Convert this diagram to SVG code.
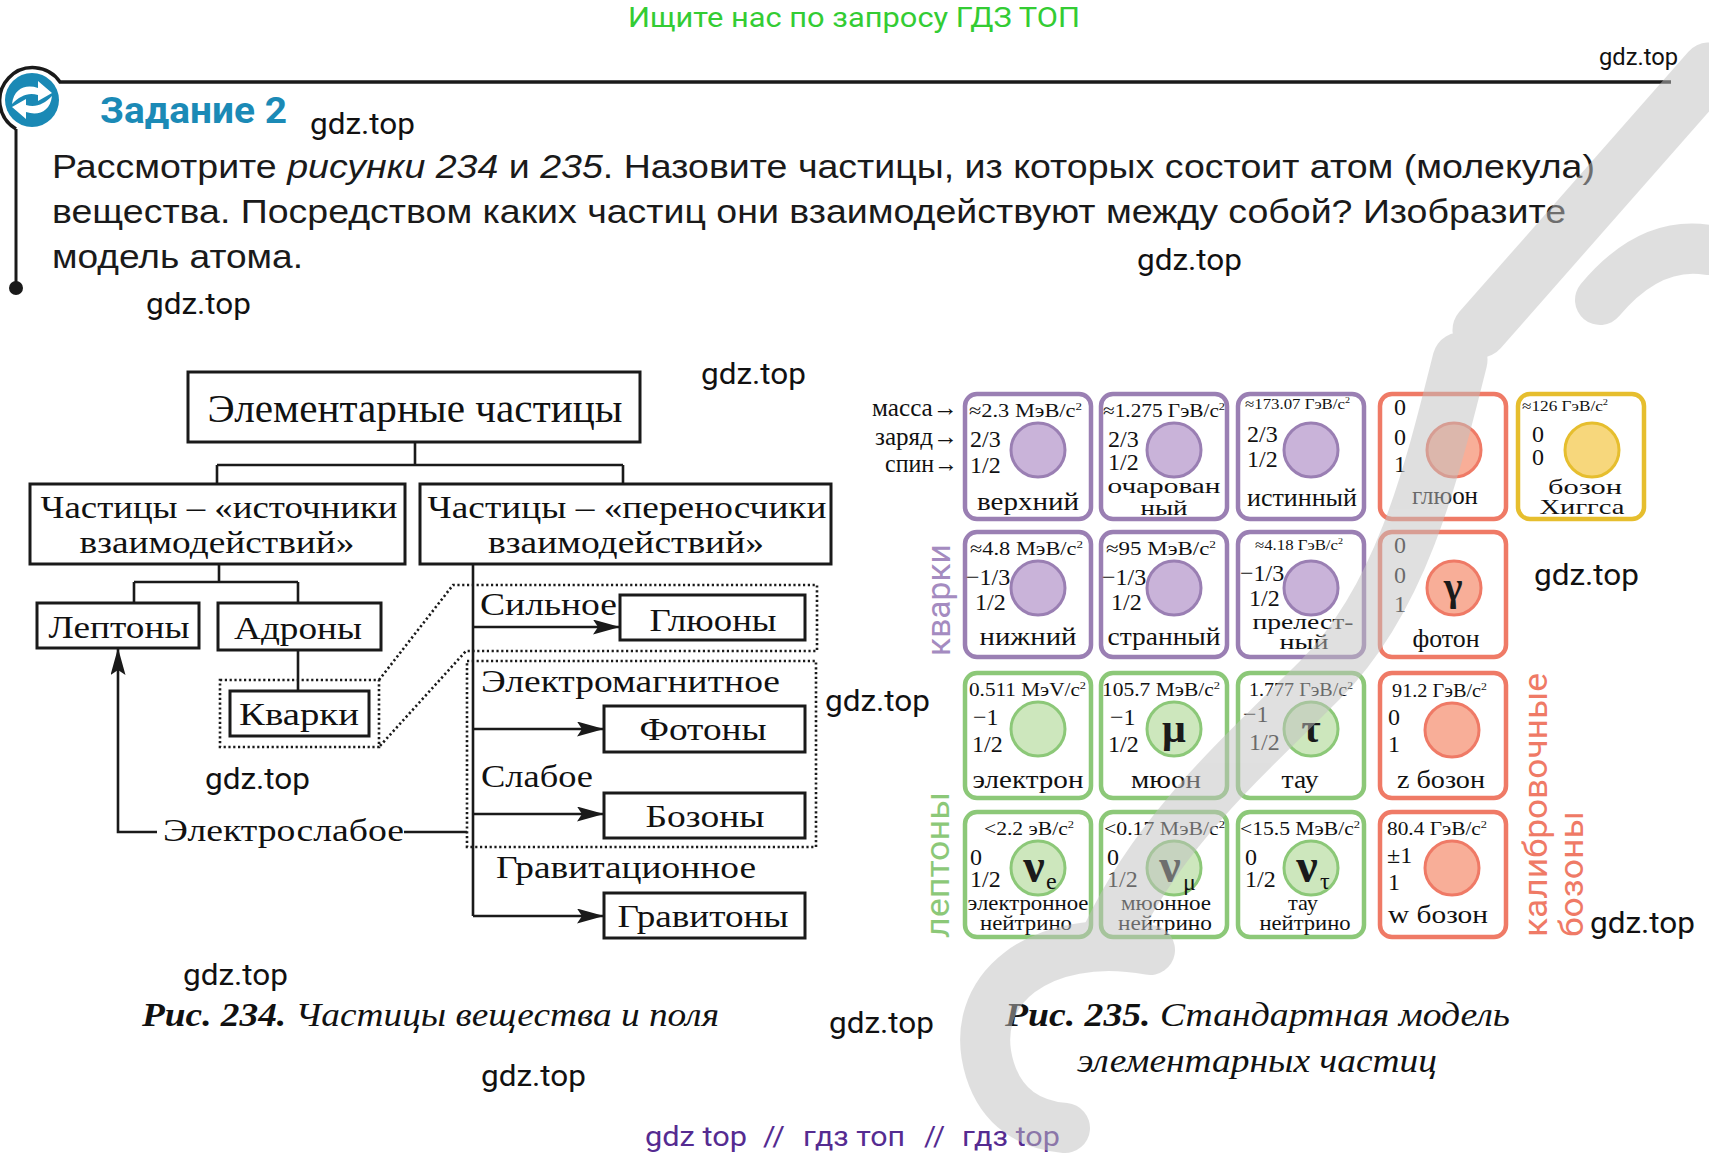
<svg xmlns="http://www.w3.org/2000/svg" width="1709" height="1158" viewBox="0 0 1709 1158">
<defs>
<style>
.sans{font-family:Roboto,"Liberation Sans",Arial,sans-serif}
.wm{font-family:Roboto,"Liberation Sans",Arial,sans-serif;font-size:30px;fill:#111}
.para{font-family:"Liberation Sans",Arial,sans-serif;font-size:34px;fill:#1a1a1a}
.box{fill:#fff;stroke:#1a1a1a;stroke-width:3}
.ln{fill:none;stroke:#1a1a1a;stroke-width:2.6}
.arr{fill:none;stroke:#1a1a1a;stroke-width:2.6;marker-end:url(#ah)}
.dot{fill:none;stroke:#1a1a1a;stroke-width:2.6;stroke-dasharray:2.2 2.6}
.tt{font-family:"Liberation Serif","Times New Roman",serif;fill:#111;font-size:32px}
.tc{text-anchor:middle}
.cell{fill:#fff;stroke-width:4.5}
.p{stroke:#9a7fb3}.g{stroke:#8cc878}.r{stroke:#ef7a66}.y{stroke:#e6be2e}
.kp{fill:#c9b3d9;stroke:#9a7fb3;stroke-width:3}
.kg{fill:#cde7bd;stroke:#8cc878;stroke-width:3}
.kr{fill:#f8ae98;stroke:#ef7a66;stroke-width:3}
.ky{fill:#f7d77c;stroke:#e6be2e;stroke-width:3}
.m{font-family:"Liberation Serif","Times New Roman",serif;font-size:19px;fill:#111}
.ms{font-family:"Liberation Serif","Times New Roman",serif;font-size:15px;fill:#111}
.q{font-family:"Liberation Serif","Times New Roman",serif;font-size:24px;fill:#111}
.n{font-family:"Liberation Serif","Times New Roman",serif;font-size:25px;fill:#111;text-anchor:middle}
.n2{font-family:"Liberation Serif","Times New Roman",serif;font-size:21px;fill:#111;text-anchor:middle}
.gk{font-family:"Liberation Serif","Times New Roman",serif;font-weight:bold;fill:#1a1a1a;text-anchor:middle}
.sup{font-size:11px}
.side{font-family:"Liberation Serif","Times New Roman",serif;font-size:25px;fill:#111;text-anchor:end}
.vl{font-family:Roboto,"Liberation Sans",Arial,sans-serif;font-size:34px}
.cap{font-family:"Liberation Serif","Times New Roman",serif;font-style:italic;font-size:34px;fill:#111}
</style>
<marker id="ah" viewBox="0 0 27 15" refX="27" refY="7.5" markerWidth="27" markerHeight="15" markerUnits="userSpaceOnUse" orient="auto">
<path d="M0,0 L27,7.5 L0,15 L5,7.5 z" fill="#1a1a1a"/>
</marker>
</defs>
<rect width="1709" height="1158" fill="#fff"/>

<!-- header -->
<text class="sans" x="854" y="27" font-size="28" fill="#33cc33" text-anchor="middle" textLength="452" lengthAdjust="spacingAndGlyphs">Ищите нас по запросу ГДЗ ТОП</text>
<text class="wm" x="1599" y="65" style="font-size:24px" textLength="79" lengthAdjust="spacingAndGlyphs">gdz.top</text>

<g id="icon">
<path d="M16 129 A33 33 0 1 1 60 82 L1671 82" fill="none" stroke="#1a1a1a" stroke-width="3.5"/>
<path d="M16 129 L16 286" stroke="#1a1a1a" stroke-width="3"/>
<circle cx="16" cy="288" r="7" fill="#1a1a1a"/>
<circle cx="32" cy="100" r="27" fill="#1a89b5"/>
<path d="M12 104 C14 88 26 84 38 88 L38 81 L52 93 L38 101 L38 95 C28 92 20 96 12 104 Z" fill="#fff"/>
<path d="M52 96 C50 112 38 116 26 112 L26 119 L12 107 L26 99 L26 105 C36 108 44 104 52 96 Z" fill="#fff"/>
</g>
<text class="sans" x="100" y="123" font-size="36" font-weight="bold" fill="#1b8ab6" textLength="187" lengthAdjust="spacingAndGlyphs">Задание 2</text>

<text class="para" x="52" y="178" textLength="1543" lengthAdjust="spacingAndGlyphs">Рассмотрите <tspan font-style="italic">рисунки 234</tspan> и <tspan font-style="italic">235</tspan>. Назовите частицы, из которых состоит атом (молекула)</text>
<text class="para" x="52" y="223" textLength="1514" lengthAdjust="spacingAndGlyphs">вещества. Посредством каких частиц они взаимодействуют между собой? Изобразите</text>
<text class="para" x="52" y="268" textLength="251" lengthAdjust="spacingAndGlyphs">модель атома.</text>

<!-- gdz.top watermarks -->
<g id="gdz-marks">
<text class="wm" x="310" y="134" textLength="105" lengthAdjust="spacingAndGlyphs">gdz.top</text>
<text class="wm" x="1137" y="270" textLength="105" lengthAdjust="spacingAndGlyphs">gdz.top</text>
<text class="wm" x="146" y="314" textLength="105" lengthAdjust="spacingAndGlyphs">gdz.top</text>
<text class="wm" x="701" y="384" textLength="105" lengthAdjust="spacingAndGlyphs">gdz.top</text>
<text class="wm" x="1534" y="585" textLength="105" lengthAdjust="spacingAndGlyphs">gdz.top</text>
<text class="wm" x="825" y="711" textLength="105" lengthAdjust="spacingAndGlyphs">gdz.top</text>
<text class="wm" x="205" y="789" textLength="105" lengthAdjust="spacingAndGlyphs">gdz.top</text>
<text class="wm" x="1590" y="933" textLength="105" lengthAdjust="spacingAndGlyphs">gdz.top</text>
<text class="wm" x="183" y="985" textLength="105" lengthAdjust="spacingAndGlyphs">gdz.top</text>
<text class="wm" x="829" y="1033" textLength="105" lengthAdjust="spacingAndGlyphs">gdz.top</text>
<text class="wm" x="481" y="1086" textLength="105" lengthAdjust="spacingAndGlyphs">gdz.top</text>
</g>

<!-- Fig 234 connectors -->
<g id="connectors">
<path class="ln" d="M415 442 V465 M217 465 H623 M217 465 V484 M623 465 V484"/>
<path class="ln" d="M219 564 V582 M134 582 H298 M134 582 V603 M298 582 V603"/>
<path class="ln" d="M298 650 V691"/>
<path class="ln" d="M473 564 V916"/>
<path class="arr" d="M473 627 H620"/>
<path class="arr" d="M473 729 H604"/>
<path class="arr" d="M473 814 H604"/>
<path class="arr" d="M473 916 H604"/>
<path class="ln" d="M467 832 H404"/>
<path class="arr" d="M157 832 H118 V648"/>
<path class="dot" d="M220 680 H379 V747 H220 Z"/>
<path class="dot" d="M379 680 L453 585 H817 V651 H466 L379 747"/>
<path class="dot" d="M467 661 H816 V847 H467 Z"/>
</g>

<g id="n-root"><rect class="box" x="188" y="372" width="452" height="70"/>
<text class="tt tc" x="415" y="422" style="font-size:40px" textLength="415" lengthAdjust="spacingAndGlyphs">Элементарные частицы</text></g>
<g id="n-src"><rect class="box" x="30" y="484" width="375" height="80"/>
<text class="tt tc" x="219" y="518" textLength="357" lengthAdjust="spacingAndGlyphs">Частицы – «источники</text>
<text class="tt tc" x="217" y="553" textLength="275" lengthAdjust="spacingAndGlyphs">взаимодействий»</text></g>
<g id="n-car"><rect class="box" x="420" y="484" width="411" height="80"/>
<text class="tt tc" x="627" y="518" textLength="399" lengthAdjust="spacingAndGlyphs">Частицы – «переносчики</text>
<text class="tt tc" x="626" y="553" textLength="276" lengthAdjust="spacingAndGlyphs">взаимодействий»</text></g>
<g id="n-lep"><rect class="box" x="37" y="603" width="162" height="45"/>
<text class="tt tc" x="119" y="638" textLength="141" lengthAdjust="spacingAndGlyphs">Лептоны</text></g>
<g id="n-adr"><rect class="box" x="218" y="603" width="163" height="47"/>
<text class="tt tc" x="298" y="639" textLength="128" lengthAdjust="spacingAndGlyphs">Адроны</text></g>
<g id="n-quark"><rect class="box" x="230" y="691" width="139" height="45"/>
<text class="tt tc" x="299" y="725" textLength="120" lengthAdjust="spacingAndGlyphs">Кварки</text></g>
<g id="n-gluon"><rect class="box" x="620" y="595" width="185" height="45"/>
<text class="tt tc" x="713" y="631" textLength="127" lengthAdjust="spacingAndGlyphs">Глюоны</text></g>
<g id="n-photon"><rect class="box" x="604" y="706" width="201" height="46"/>
<text class="tt tc" x="703" y="740" textLength="127" lengthAdjust="spacingAndGlyphs">Фотоны</text></g>
<g id="n-boson"><rect class="box" x="604" y="793" width="201" height="45"/>
<text class="tt tc" x="705" y="827" textLength="119" lengthAdjust="spacingAndGlyphs">Бозоны</text></g>
<g id="n-graviton"><rect class="box" x="604" y="893" width="201" height="45"/>
<text class="tt tc" x="703" y="927" textLength="171" lengthAdjust="spacingAndGlyphs">Гравитоны</text></g>
<g id="labels234">
<text class="tt" x="480" y="615" textLength="137" lengthAdjust="spacingAndGlyphs">Сильное</text>
<text class="tt" x="481" y="692" textLength="299" lengthAdjust="spacingAndGlyphs">Электромагнитное</text>
<text class="tt" x="481" y="787" textLength="112" lengthAdjust="spacingAndGlyphs">Слабое</text>
<text class="tt" x="496" y="878" textLength="260" lengthAdjust="spacingAndGlyphs">Гравитационное</text>
<text class="tt" x="163" y="841" textLength="241" lengthAdjust="spacingAndGlyphs">Электрослабое</text>
</g>

<!-- Fig 235 -->
<g id="side-labels">
<text class="side" x="958" y="416" textLength="86" lengthAdjust="spacingAndGlyphs">масса→</text>
<text class="side" x="958" y="445" textLength="83" lengthAdjust="spacingAndGlyphs">заряд→</text>
<text class="side" x="958" y="472" textLength="73" lengthAdjust="spacingAndGlyphs">спин→</text>
<text class="vl" transform="translate(950,656) rotate(-90)" fill="#a48bc0" textLength="112" lengthAdjust="spacingAndGlyphs">кварки</text>
<text class="vl" transform="translate(949,938) rotate(-90)" fill="#8cc878" textLength="146" lengthAdjust="spacingAndGlyphs">лептоны</text>
<text class="vl" transform="translate(1547,937) rotate(-90)" fill="#ef7a66" textLength="264" lengthAdjust="spacingAndGlyphs">калибровочные</text>
<text class="vl" transform="translate(1583,937) rotate(-90)" fill="#ef7a66" textLength="126" lengthAdjust="spacingAndGlyphs">бозоны</text>
</g>

<g id="c-up"><rect class="cell p" x="965" y="394" width="126" height="125" rx="12"/><circle class="kp" cx="1038" cy="450" r="27"/>
<text class="m" x="969" y="417" textLength="113" lengthAdjust="spacingAndGlyphs">≈2.3 МэВ/с<tspan class="sup" dy="-7">2</tspan></text>
<text class="q" x="970" y="447">2/3</text><text class="q" x="970" y="473">1/2</text>
<text class="n" x="1028" y="510" textLength="102" lengthAdjust="spacingAndGlyphs">верхний</text></g>
<g id="c-charm"><rect class="cell p" x="1101" y="394" width="126" height="125" rx="12"/><circle class="kp" cx="1174" cy="450" r="27"/>
<text class="m" x="1103" y="417" textLength="122" lengthAdjust="spacingAndGlyphs">≈1.275 ГэВ/с<tspan class="sup" dy="-7">2</tspan></text>
<text class="q" x="1108" y="447">2/3</text><text class="q" x="1108" y="470">1/2</text>
<text class="n2" x="1164" y="493" textLength="113" lengthAdjust="spacingAndGlyphs">очарован</text>
<text class="n2" x="1164" y="515" textLength="47" lengthAdjust="spacingAndGlyphs">ный</text></g>
<g id="c-top"><rect class="cell p" x="1238" y="394" width="126" height="125" rx="12"/><circle class="kp" cx="1311" cy="450" r="27"/>
<text class="ms" x="1245" y="409" textLength="105" lengthAdjust="spacingAndGlyphs">≈173.07 ГэВ/с<tspan class="sup" dy="-6" style="font-size:9px">2</tspan></text>
<text class="q" x="1247" y="442">2/3</text><text class="q" x="1247" y="467">1/2</text>
<text class="n" x="1302" y="506" textLength="110" lengthAdjust="spacingAndGlyphs">истинный</text></g>
<g id="c-gluon"><rect class="cell r" x="1380" y="394" width="126" height="125" rx="12"/><circle class="kr" cx="1454" cy="450" r="27"/>
<text class="q" x="1394" y="415">0</text><text class="q" x="1394" y="445">0</text><text class="q" x="1394" y="472">1</text>
<text class="n" x="1445" y="504" textLength="66" lengthAdjust="spacingAndGlyphs">глюон</text></g>
<g id="c-higgs"><rect class="cell y" x="1518" y="394" width="126" height="125" rx="12"/><circle class="ky" cx="1592" cy="450" r="27"/>
<text class="ms" x="1522" y="411" textLength="86" lengthAdjust="spacingAndGlyphs">≈126 ГэВ/с<tspan class="sup" dy="-6" style="font-size:9px">2</tspan></text>
<text class="q" x="1532" y="442">0</text><text class="q" x="1532" y="465">0</text>
<text class="n2" x="1585" y="494" textLength="74" lengthAdjust="spacingAndGlyphs">бозон</text>
<text class="n2" x="1582" y="514" textLength="85" lengthAdjust="spacingAndGlyphs">Хиггса</text></g>

<g id="c-down"><rect class="cell p" x="965" y="532" width="126" height="125" rx="12"/><circle class="kp" cx="1038" cy="588" r="27"/>
<text class="m" x="970" y="555" textLength="113" lengthAdjust="spacingAndGlyphs">≈4.8 МэВ/с<tspan class="sup" dy="-7">2</tspan></text>
<text class="q" x="966" y="585">−1/3</text><text class="q" x="975" y="610">1/2</text>
<text class="n" x="1028" y="645" textLength="97" lengthAdjust="spacingAndGlyphs">нижний</text></g>
<g id="c-strange"><rect class="cell p" x="1101" y="532" width="126" height="125" rx="12"/><circle class="kp" cx="1174" cy="588" r="27"/>
<text class="m" x="1106" y="555" textLength="110" lengthAdjust="spacingAndGlyphs">≈95 МэВ/с<tspan class="sup" dy="-7">2</tspan></text>
<text class="q" x="1102" y="585">−1/3</text><text class="q" x="1111" y="610">1/2</text>
<text class="n" x="1164" y="645" textLength="113" lengthAdjust="spacingAndGlyphs">странный</text></g>
<g id="c-bottom"><rect class="cell p" x="1238" y="532" width="126" height="125" rx="12"/><circle class="kp" cx="1311" cy="588" r="27"/>
<text class="ms" x="1255" y="550" textLength="88" lengthAdjust="spacingAndGlyphs">≈4.18 ГэВ/с<tspan class="sup" dy="-6" style="font-size:9px">2</tspan></text>
<text class="q" x="1240" y="581">−1/3</text><text class="q" x="1249" y="606">1/2</text>
<text class="n2" x="1303" y="629" textLength="101" lengthAdjust="spacingAndGlyphs">прелест-</text>
<text class="n2" x="1304" y="649" textLength="49" lengthAdjust="spacingAndGlyphs">ный</text></g>
<g id="c-photon"><rect class="cell r" x="1380" y="532" width="126" height="125" rx="12"/><circle class="kr" cx="1454" cy="588" r="27"/>
<text class="gk" x="1453" y="600" font-size="40">γ</text>
<text class="q" x="1394" y="553">0</text><text class="q" x="1394" y="583">0</text><text class="q" x="1394" y="612">1</text>
<text class="n" x="1446" y="647" textLength="67" lengthAdjust="spacingAndGlyphs">фотон</text></g>

<g id="c-electron"><rect class="cell g" x="965" y="673" width="126" height="125" rx="12"/><circle class="kg" cx="1038" cy="729" r="27"/>
<text class="m" x="969" y="696" textLength="117" lengthAdjust="spacingAndGlyphs">0.511 MэV/c<tspan class="sup" dy="-7">2</tspan></text>
<text class="q" x="973" y="725">−1</text><text class="q" x="972" y="752">1/2</text>
<text class="n" x="1028" y="788" textLength="111" lengthAdjust="spacingAndGlyphs">электрон</text></g>
<g id="c-muon"><rect class="cell g" x="1101" y="673" width="126" height="125" rx="12"/><circle class="kg" cx="1174" cy="729" r="27"/>
<text class="gk" x="1174" y="742" font-size="42">μ</text>
<text class="m" x="1102" y="696" textLength="118" lengthAdjust="spacingAndGlyphs">105.7 МэВ/с<tspan class="sup" dy="-7">2</tspan></text>
<text class="q" x="1110" y="725">−1</text><text class="q" x="1108" y="752">1/2</text>
<text class="n" x="1166" y="788" textLength="70" lengthAdjust="spacingAndGlyphs">мюон</text></g>
<g id="c-tau"><rect class="cell g" x="1238" y="673" width="126" height="125" rx="12"/><circle class="kg" cx="1311" cy="729" r="27"/>
<text class="gk" x="1311" y="742" font-size="42">τ</text>
<text class="m" x="1249" y="696" textLength="104" lengthAdjust="spacingAndGlyphs">1.777 ГэВ/с<tspan class="sup" dy="-7">2</tspan></text>
<text class="q" x="1243" y="722">−1</text><text class="q" x="1249" y="750">1/2</text>
<text class="n" x="1300" y="788" textLength="37" lengthAdjust="spacingAndGlyphs">тау</text></g>
<g id="c-z"><rect class="cell r" x="1380" y="673" width="126" height="125" rx="12"/><circle class="kr" cx="1452" cy="730" r="27"/>
<text class="m" x="1392" y="697" textLength="95" lengthAdjust="spacingAndGlyphs">91.2 ГэВ/с<tspan class="sup" dy="-7">2</tspan></text>
<text class="q" x="1388" y="725">0</text><text class="q" x="1388" y="752">1</text>
<text class="n" x="1441" y="788" textLength="88" lengthAdjust="spacingAndGlyphs">z бозон</text></g>

<g id="c-nue"><rect class="cell g" x="965" y="812" width="126" height="125" rx="12"/><circle class="kg" cx="1038" cy="868" r="27"/>
<text class="gk" x="1034" y="882" font-size="48">ν</text><text class="m" x="1046" y="889" style="font-size:24px">e</text>
<text class="m" x="984" y="835" textLength="90" lengthAdjust="spacingAndGlyphs">&lt;2.2 эВ/с<tspan class="sup" dy="-7">2</tspan></text>
<text class="q" x="970" y="865">0</text><text class="q" x="970" y="887">1/2</text>
<text class="n2" x="1028" y="910" textLength="121" lengthAdjust="spacingAndGlyphs">электронное</text>
<text class="n2" x="1026" y="930" textLength="92" lengthAdjust="spacingAndGlyphs">нейтрино</text></g>
<g id="c-numu"><rect class="cell g" x="1101" y="812" width="126" height="125" rx="12"/><circle class="kg" cx="1174" cy="868" r="27"/>
<text class="gk" x="1170" y="882" font-size="48">ν</text><text class="m" x="1183" y="890" style="font-size:24px">μ</text>
<text class="m" x="1104" y="835" textLength="121" lengthAdjust="spacingAndGlyphs">&lt;0.17 МэВ/с<tspan class="sup" dy="-7">2</tspan></text>
<text class="q" x="1107" y="865">0</text><text class="q" x="1107" y="887">1/2</text>
<text class="n2" x="1166" y="910" textLength="90" lengthAdjust="spacingAndGlyphs">мюонное</text>
<text class="n2" x="1165" y="930" textLength="94" lengthAdjust="spacingAndGlyphs">нейтрино</text></g>
<g id="c-nutau"><rect class="cell g" x="1238" y="812" width="126" height="125" rx="12"/><circle class="kg" cx="1311" cy="868" r="27"/>
<text class="gk" x="1307" y="882" font-size="48">ν</text><text class="m" x="1320" y="889" style="font-size:24px">τ</text>
<text class="m" x="1240" y="835" textLength="120" lengthAdjust="spacingAndGlyphs">&lt;15.5 МэВ/с<tspan class="sup" dy="-7">2</tspan></text>
<text class="q" x="1245" y="865">0</text><text class="q" x="1245" y="887">1/2</text>
<text class="n2" x="1303" y="910" textLength="30" lengthAdjust="spacingAndGlyphs">тау</text>
<text class="n2" x="1305" y="930" textLength="91" lengthAdjust="spacingAndGlyphs">нейтрино</text></g>
<g id="c-w"><rect class="cell r" x="1380" y="812" width="126" height="125" rx="12"/><circle class="kr" cx="1452" cy="868" r="27"/>
<text class="m" x="1387" y="835" textLength="100" lengthAdjust="spacingAndGlyphs">80.4 ГэВ/с<tspan class="sup" dy="-7">2</tspan></text>
<text class="q" x="1387" y="863">±1</text><text class="q" x="1388" y="890">1</text>
<text class="n" x="1438" y="923" textLength="100" lengthAdjust="spacingAndGlyphs">w бозон</text></g>

<!-- captions -->
<text class="cap" x="142" y="1026" textLength="577" lengthAdjust="spacingAndGlyphs"><tspan font-weight="bold">Рис. 234.</tspan> Частицы вещества и поля</text>
<text class="cap" x="1005" y="1026" textLength="505" lengthAdjust="spacingAndGlyphs"><tspan font-weight="bold">Рис. 235.</tspan> Стандартная модель</text>
<text class="cap" x="1077" y="1072" textLength="360" lengthAdjust="spacingAndGlyphs">элементарных частиц</text>

<g id="footer" class="sans" font-size="28" fill="#552b91">
<text x="645" y="1146" textLength="102" lengthAdjust="spacingAndGlyphs">gdz top</text>
<text x="763" y="1146" textLength="22" lengthAdjust="spacingAndGlyphs">//</text>
<text x="803" y="1146" textLength="102" lengthAdjust="spacingAndGlyphs">гдз топ</text>
<text x="924" y="1146" textLength="21" lengthAdjust="spacingAndGlyphs">//</text>
<text x="962" y="1146" textLength="98" lengthAdjust="spacingAndGlyphs">гдз top</text>
</g>

<!-- faint background watermark -->
<g id="bg-watermark" opacity="0.5" fill="none" stroke="#c1c1c1" stroke-linecap="round">
<path d="M1150 950 C1040 930 965 990 990 1070 C1002 1108 1030 1125 1065 1128" stroke-width="50"/>
<path d="M1110 935 C1160 830 1240 760 1320 680 C1400 600 1430 480 1460 360" stroke-width="55"/>
<path d="M1480 330 L1709 70" stroke-width="55"/>
<path d="M1600 300 Q1650 240 1709 250" stroke-width="50"/>
</g>
</svg>
